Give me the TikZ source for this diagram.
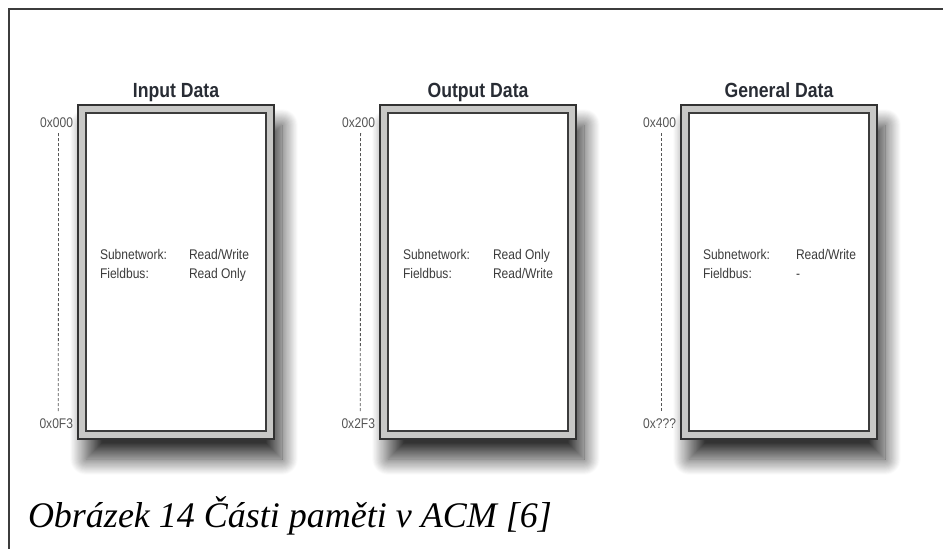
\documentclass[tikz,border=0pt]{standalone}
\usepackage{fontspec}
\setmainfont{Liberation Serif}
\setsansfont{Liberation Sans}
\newfontfamily\narrowsans[FakeStretch=0.86]{Liberation Sans}
\usetikzlibrary{shadows.blur}

\begin{document}
\begin{tikzpicture}[x=1pt,y=-1pt,
  memframe/.style={fill={rgb,255:red,200;green,200;blue,198},draw={rgb,255:red,50;green,50;blue,50},line width=1.8pt,
    blur shadow={shadow xshift=8pt,shadow yshift=-20pt,shadow blur radius=16pt,shadow blur steps=30,shadow opacity=80}},
  meminner/.style={fill=white,draw={rgb,255:red,60;green,60;blue,60},line width=1.2pt},
  memtitle/.style={inner sep=0pt,outer sep=0pt,anchor=base,text={rgb,255:red,40;green,44;blue,52},font=\narrowsans\bfseries\fontsize{20.5}{24}\selectfont},
  addr/.style={inner sep=0pt,outer sep=0pt,anchor=base east,text={rgb,255:red,85;green,85;blue,85},font=\narrowsans\fontsize{14}{16}\selectfont},
  access/.style={inner sep=0pt,outer sep=0pt,anchor=base west,text={rgb,255:red,60;green,60;blue,60},font=\narrowsans\fontsize{14}{16}\selectfont},
  addrline/.style={draw={rgb,255:red,85;green,85;blue,85},line width=0.8pt,dash pattern=on 3pt off 2pt}]
\path[use as bounding box] (0,0) rectangle (943,549);
\draw[draw={rgb,255:red,60;green,60;blue,60},line width=2pt] (9,549) -- (9,9) -- (943,9);
% input data
\path[memframe] (78,105) rectangle (274,439);
\path[meminner] (86,113) rectangle (266,431);
\node[memtitle] (inTitle) at (176,97) {Input Data};
\node[addr] (inLow) at (73,127) {0x000};
\node[addr] (inHigh) at (73,428) {0x0F3};
\draw[addrline] ([xshift=2pt,yshift=-6pt]inLow.south) -- ([xshift=2pt,yshift=6pt]inHigh.north);
\node[access] (inSubKey) at (100,259) {Subnetwork:};
\node[access] (inSubVal) at (189,259) {Read/Write};
\node[access] (inBusKey) at (100,278) {Fieldbus:};
\node[access] (inBusVal) at (189,278) {Read Only};
% output data
\path[memframe] (380,105) rectangle (576,439);
\path[meminner] (388,113) rectangle (568,431);
\node[memtitle] (outTitle) at (478,97) {Output Data};
\node[addr] (outLow) at (375,127) {0x200};
\node[addr] (outHigh) at (375,428) {0x2F3};
\draw[addrline] ([xshift=2pt,yshift=-6pt]outLow.south) -- ([xshift=2pt,yshift=6pt]outHigh.north);
\node[access] (outSubKey) at (403,259) {Subnetwork:};
\node[access] (outSubVal) at (493,259) {Read Only};
\node[access] (outBusKey) at (403,278) {Fieldbus:};
\node[access] (outBusVal) at (493,278) {Read/Write};
% general data
\path[memframe] (681,105) rectangle (877,439);
\path[meminner] (689,113) rectangle (869,431);
\node[memtitle] (genTitle) at (779,97) {General Data};
\node[addr] (genLow) at (676,127) {0x400};
\node[addr] (genHigh) at (676,428) {0x???};
\draw[addrline] ([xshift=2pt,yshift=-6pt]genLow.south) -- ([xshift=2pt,yshift=6pt]genHigh.north);
\node[access] (genSubKey) at (703,259) {Subnetwork:};
\node[access] (genSubVal) at (796,259) {Read/Write};
\node[access] (genBusKey) at (703,278) {Fieldbus:};
\node[access] (genBusVal) at (796,278) {-};
% caption
\node[inner sep=0pt,outer sep=0pt,anchor=base west,font=\itshape\fontsize{36}{42}\selectfont] (caption) at (28,527) {Obrázek 14 Části paměti v ACM [6]};
\end{tikzpicture}
\end{document}
